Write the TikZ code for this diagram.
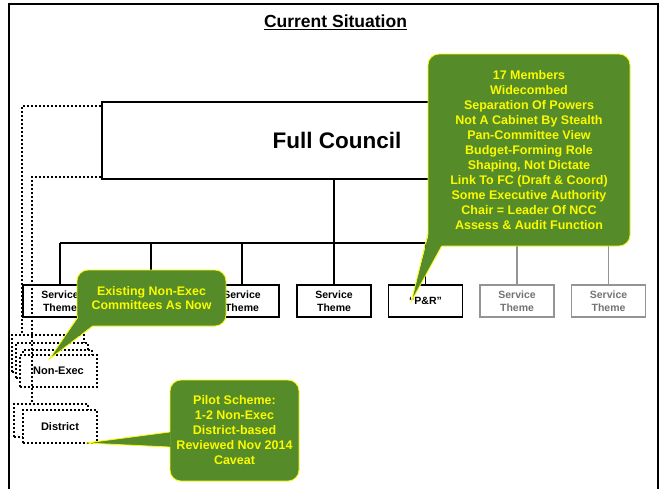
\documentclass[tikz,border=0pt]{standalone}
\usepackage{fontspec}
\setmainfont{Liberation Sans}
\definecolor{notegreen}{RGB}{86,139,42}
\definecolor{noteyellow}{RGB}{250,250,0}
\newcommand{\myfadegray}{black!42}
\newcommand{\myfadetext}{black!55}

\begin{document}
\begin{tikzpicture}[x=1pt, y=-1pt,
  board/.style = {draw, line width=1.6pt, minimum width=470pt, minimum height=77pt,
    font=\fontsize{22.5}{26}\selectfont\bfseries},
  theme/.style = {draw, fill=white, line width=1.3pt, minimum width=74pt, minimum height=32pt,
    inner sep=0pt, align=center, font=\fontsize{10.5}{13}\selectfont\bfseries},
  fadetheme/.style = {theme, draw=\myfadegray, text=\myfadetext},
  ghostline/.style = {line width=2pt, dash pattern=on 2pt off 2pt},
  ghostbox/.style = {ghostline, draw, fill=white, inner sep=0pt,
    font=\fontsize{11}{13}\selectfont\bfseries},
  note/.style = {rectangle, rounded corners=11pt, fill=notegreen, draw=noteyellow,
    line width=.8pt, text=noteyellow, align=center, inner sep=0pt,
    font=\fontsize{12.5}{15}\selectfont\bfseries},
  pointer/.style = {draw=noteyellow, line width=.8pt, line join=miter}]
\useasboundingbox (0,0) rectangle (660,488);
\draw[line width=1.6pt] (9,490) -- (9,4) -- (658,4) -- (658,490);
\node[font=\fontsize{17.5}{20}\selectfont\bfseries] (title) at (335.5,22.5) {\underline{Current Situation}};

\node[board] (council) at (337,140.5) {Full Council};

\node[theme] (theme1) at (60,301) {Service\\Theme};
\node[theme] (theme2) at (151,301) {Service\\Theme};
\node[theme] (theme3) at (242,301) {Service\\Theme};
\node[theme] (theme4) at (334,301) {Service\\Theme};
\node[theme] (pandr) at (425.5,301) {``P\&R''};
\node[fadetheme] (theme6) at (517,301) {Service\\Theme};
\node[fadetheme] (theme7) at (608.5,301) {Service\\Theme};

\coordinate (bus) at (334,243);
\draw[line width=1.3pt] (theme4.north |- council.south) -- (theme4.north);
\draw[line width=1.3pt] (theme1.north |- bus) -- (pandr.north |- bus);
\foreach \n in {theme1,theme2,theme3,pandr}
  \draw[line width=1.3pt] (\n.north) -- (\n.north |- bus);
\draw[\myfadegray, line width=1.3pt] (pandr.north |- bus) -- (theme7.north |- bus);
\foreach \n in {theme6,theme7}
  \draw[\myfadegray, line width=1.3pt] (\n.north) -- (\n.north |- bus);

% non-exec and district stacks
\node[ghostbox, minimum width=72pt, minimum height=37pt] (nonexecback3) at (48,353.5) {};
\node[ghostbox, minimum width=72pt, minimum height=35pt] (nonexecback2) at (52,360.5) {};
\node[ghostbox, minimum width=69pt, minimum height=33pt] (nonexecback1) at (57.5,366.5) {};
\node[ghostbox, minimum width=77pt, minimum height=32pt] (nonexec) at (58.5,371) {Non-Exec};
\node[ghostbox, minimum width=74pt, minimum height=33pt] (districtback) at (51,420.5) {};
\node[ghostbox, minimum width=74pt, minimum height=33pt] (district) at (60,426.5) {District};

\draw[ghostline] ([yshift=-5pt]council.north west) -| ([xshift=11pt]nonexecback3.north west);
\draw[ghostline] ([yshift=3pt]council.south west) -| ([xshift=19pt]districtback.north west);

% notes
\node[note, minimum width=202pt, minimum height=192pt] (fcnote) at (529,150)
  {17 Members\\Widecombed\\Separation Of Powers\\Not A Cabinet By Stealth\\Pan-Committee View\\
   Budget-Forming Role\\Shaping, Not Dictate\\Link To FC (Draft \& Coord)\\Some Executive Authority\\
   Chair = Leader Of NCC\\Assess \& Audit Function};
\coordinate (fctip) at ([xshift=-14pt]pandr.center);
\fill[notegreen] ([xshift=1pt,yshift=12pt]fcnote.south west) -- (fctip) -- ([xshift=14pt,yshift=1pt]fcnote.south west) -- cycle;
\draw[pointer] ([yshift=12pt]fcnote.south west) -- (fctip) -- ([xshift=14pt]fcnote.south west);

\node[note, minimum width=149pt, minimum height=56pt, font=\fontsize{12.4}{14}\selectfont\bfseries]
  (committeenote) at (151.5,298) {Existing Non-Exec\\Committees As Now};
\coordinate (committeetip) at ([xshift=-9pt,yshift=-5pt]nonexec.north);
\fill[notegreen] ([xshift=1pt,yshift=8pt]committeenote.south west) -- (committeetip) -- ([xshift=16pt,yshift=1pt]committeenote.south west) -- cycle;
\draw[pointer] ([yshift=8pt]committeenote.south west) -- (committeetip) -- ([xshift=16pt]committeenote.south west);

\node[note, minimum width=129pt, minimum height=101pt] (pilotnote) at (234.5,430.5)
  {Pilot Scheme:\\1-2 Non-Exec\\District-based\\Reviewed Nov 2014\\Caveat};
\coordinate (pilottip) at ([xshift=-12pt,yshift=1pt]district.south east);
\fill[notegreen] ([xshift=1pt,yshift=-1.5pt]pilotnote.west) -- (pilottip) -- ([xshift=1pt,yshift=-16.5pt]pilotnote.west) -- cycle;
\draw[pointer] ([yshift=-1.5pt]pilotnote.west) -- (pilottip) -- ([yshift=-16.5pt]pilotnote.west);
\end{tikzpicture}
\end{document}
